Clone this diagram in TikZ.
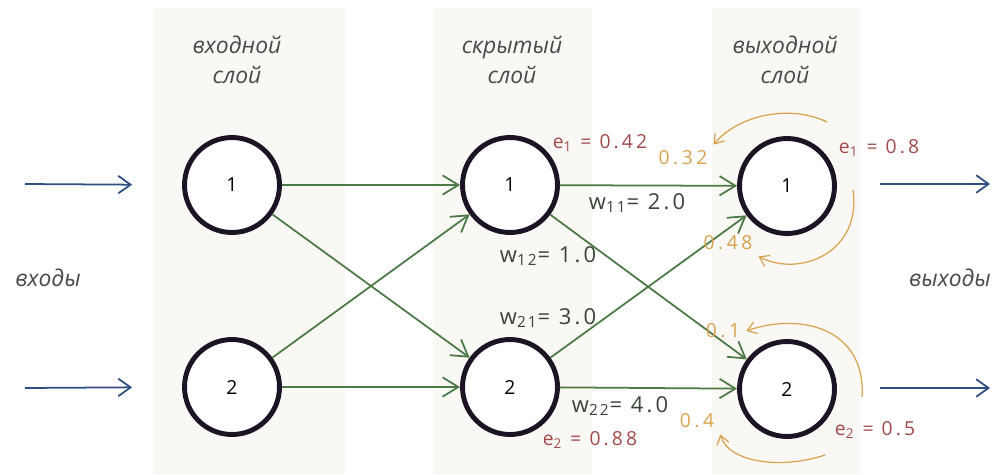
\documentclass[tikz,border=0pt]{standalone}
\usepackage{fontspec}
\setmainfont{Open Sans}
\usetikzlibrary{arrows.meta}

\definecolor{bgcol}{HTML}{FAF8F4}
\definecolor{nodecol}{HTML}{1C1424}
\definecolor{inblue}{HTML}{2E4F80}
\definecolor{wgreen}{HTML}{4B7A46}
\definecolor{wtext}{HTML}{3A4438}
\definecolor{errred}{HTML}{A24A48}
\definecolor{backorange}{HTML}{D9A24E}
\definecolor{labgray}{HTML}{4A4A4A}

\newcommand{\sbs}[1]{\textsubscript{#1}}

\tikzset{
  neuron/.style={circle, draw=nodecol, line width=2.8pt, fill=white,
    minimum size=1.9cm, inner sep=0pt, font=\fontsize{11}{13}\selectfont},
  layerlabel/.style={align=center, text=labgray, font=\itshape\fontsize{13}{17}\selectfont},
  weight/.style={text=wtext, font=\fontsize{12.5}{14}\selectfont\addfontfeature{LetterSpace=14}},
  errlabel/.style={text=errred, font=\fontsize{11}{13}\selectfont\addfontfeature{LetterSpace=16}},
  backlabel/.style={text=backorange, font=\fontsize{11}{13}\selectfont\addfontfeature{LetterSpace=18}},
  link/.style={draw=wgreen, line width=1pt, -{Straight Barb[length=9pt,width=11pt]}},
  feed/.style={draw=inblue, line width=1pt, -{Straight Barb[length=7pt,width=10pt]}},
  backprop/.style={draw=backorange, line width=0.7pt, -{Straight Barb[length=5pt,width=7pt]}}
}

\begin{document}
\begin{tikzpicture}[x=0.02cm, y=-0.02cm]

\useasboundingbox (0,0) rectangle (996,474);
\fill[white] (0,0) rectangle (996,474);

% Layer columns
\fill[bgcol] (153,8) rectangle (345,474);
\fill[bgcol] (433,8) rectangle (592,474);
\fill[bgcol] (712,8) rectangle (860,474);

% Layer titles
\node[layerlabel] (tin)  at (237,60) {входной\\слой};
\node[layerlabel] (thid) at (512,60) {скрытый\\слой};
\node[layerlabel] (tout) at (785,60) {выходной\\слой};

% Neurons
\node[neuron] (i1) at (232,185) {1};
\node[neuron] (i2) at (232,387) {2};
\node[neuron] (h1) at (510,185) {1};
\node[neuron] (h2) at (510,387) {2};
\node[neuron] (o1) at (787,186) {1};
\node[neuron] (o2) at (787,389) {2};

% Inputs and outputs
\coordinate (in1) at (25,184);
\coordinate (in2) at (25,388);
\coordinate (out1) at (880,184);
\coordinate (out2) at (880,388);
\coordinate (end1) at (990,184);
\coordinate (end2) at (990,388);
\draw[feed, shorten >=1cm] (in1) -- (i1.west);
\draw[feed, shorten >=1cm] (in2) -- (i2.west);
\draw[feed] (out1) -- (end1);
\draw[feed] (out2) -- (end2);
\node[layerlabel] (lin)  at (48,278) {входы};
\node[layerlabel] (lout) at (950,278) {выходы};

% Links input -> hidden
\draw[link] (i1) -- (h1);
\draw[link] (i1) -- (h2);
\draw[link] (i2) -- (h1);
\draw[link] (i2) -- (h2);

% Links hidden -> output
\draw[link] (h1) -- (o1);
\draw[link] (h1) -- (o2);
\draw[link] (h2) -- (o1);
\draw[link] (h2) -- (o2);

% Weights
\node[weight] (w11) at (637,203) {w\sbs{11}= 2.0};
\node[weight] (w12) at (548,256) {w\sbs{12}= 1.0};
\node[weight] (w21) at (548,318) {w\sbs{21}= 3.0};
\node[weight] (w22) at (620,406) {w\sbs{22}= 4.0};

% Errors
\node[errlabel] (eh1) at (600,143) {e\sbs{1} = 0.42};
\node[errlabel] (eh2) at (590,440) {e\sbs{2} = 0.88};
\node[errlabel] (eo1) at (879,148) {e\sbs{1} = 0.8};
\node[errlabel] (eo2) at (875,430) {e\sbs{2} = 0.5};

% Back-propagated error shares
\node[backlabel] (b11) at (683,158) {0.32};
\node[backlabel] (b12) at (728,243) {0.48};
\node[backlabel] (b21) at (723,331) {0.1};
\node[backlabel] (b22) at (697,421) {0.4};

\coordinate (s11) at (827,122);
\coordinate (s12) at (853,190);
\coordinate (s21) at (862,397);
\coordinate (s22) at (825,455);
\draw[backprop] (s11) .. controls (790,104) and (738,115) .. (b11.north east);
\draw[backprop] (s12) .. controls (862,252) and (800,278) .. (b12.south east);
\draw[backprop] (s21) .. controls (866,328) and (800,312) .. (b21.east);
\draw[backprop] (s22) .. controls (780,470) and (728,462) .. (b22.south east);

\end{tikzpicture}
\end{document}
